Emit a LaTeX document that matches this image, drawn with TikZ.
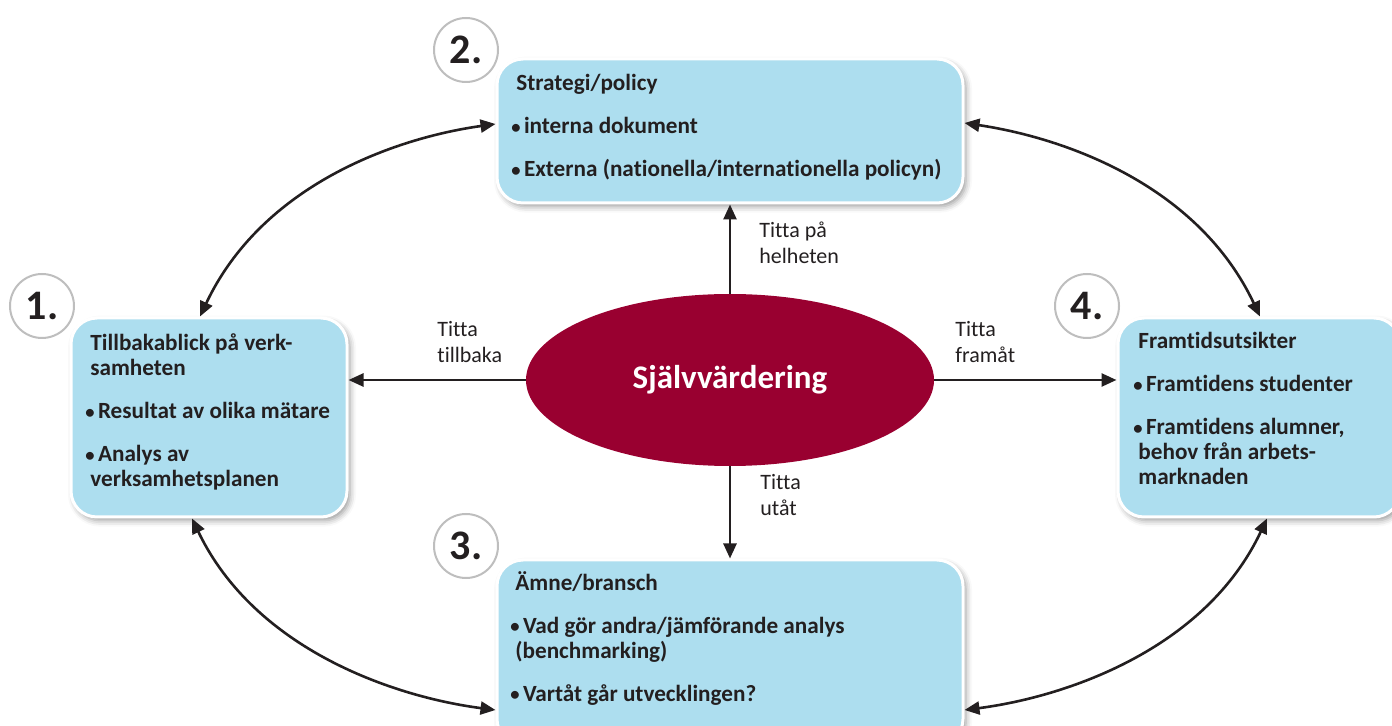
\documentclass[tikz,border=0pt]{standalone}
\usepackage{fontspec}
\setmainfont{Carlito}[Ligatures={NoCommon}]
\usetikzlibrary{arrows.meta,shapes.geometric,shadows.blur}
\definecolor{boxblue}{RGB}{173,222,239}
\definecolor{selfred}{RGB}{153,0,48}
\definecolor{inkdark}{RGB}{35,31,32}
\definecolor{ringgray}{RGB}{190,190,190}
\newcommand{\itembul}{\makebox[6.3pt][l]{\raisebox{0.4pt}{\scalebox{0.8}{•}}}}

\begin{document}
\begin{tikzpicture}[x=0.5pt,y=0.5pt,yscale=-1,xscale=1,
    infobox/.style={rectangle,rounded corners=13pt,fill=boxblue,draw=white,line width=1.5pt,inner sep=0pt,
      blur shadow={shadow xshift=1.5pt,shadow yshift=-1.8pt,shadow blur radius=3pt,shadow opacity=40}},
    boxtext/.style={anchor=base west,align=left,inner sep=0pt,text=inkdark,font=\fontsize{11.6}{12.5}\selectfont\bfseries},
    looklabel/.style={anchor=base west,align=left,inner sep=0pt,text=inkdark,font=\fontsize{11}{13}\selectfont},
    stepnum/.style={circle,draw=ringgray,line width=1pt,fill=white,minimum size=32pt,inner sep=0pt,text=inkdark,font=\fontsize{21}{21}\selectfont\bfseries},
    lookarrow/.style={draw=inkdark,line width=1.3pt,-{Triangle[length=7.5pt,width=6.5pt]}},
    twoway/.style={draw=inkdark,line width=1.3pt,{Triangle[length=7.5pt,width=6.5pt]}-{Triangle[length=7.5pt,width=6.5pt]}}]
  \useasboundingbox (0,0) rectangle (1392,726);

  %Shape: Boxes
  \node[infobox,minimum width=233pt,minimum height=72pt] (strategy) at (730,131) {};
  \node[infobox,minimum width=138pt,minimum height=99.5pt] (review) at (209,417.5) {};
  \node[infobox,minimum width=233pt,minimum height=92.5pt] (field) at (730,652.5) {};
  \node[infobox,minimum width=141pt,minimum height=99.5pt] (outlook) at (1259,417.5) {};

  %Shape: Ellipse
  \node[ellipse,fill=selfred,minimum width=204pt,minimum height=86pt,inner sep=0pt,text=white,
    font=\fontsize{16.5}{16.5}\selectfont\bfseries] (selfeval) at (730,380) {Självvärdering};

  %Straight Lines
  \draw[lookarrow] (selfeval.north) -- (strategy.south);
  \draw[lookarrow] (selfeval.south) -- (field.north);
  \draw[lookarrow] (selfeval.west) -- (selfeval.west -| review.east);
  \draw[lookarrow] (selfeval.east) -- (selfeval.east -| outlook.west);

  %Curve Lines
  \draw[twoway] (200,0 |- review.north) .. controls (262,185) and (395,138) .. (strategy.west |- 0,124);
  \draw[twoway] (1260,0 |- outlook.north) .. controls (1198,185) and (1065,138) .. (strategy.east |- 0,123);
  \draw[twoway] (192,0 |- review.south) .. controls (255,650) and (395,697) .. (field.west |- 0,710);
  \draw[twoway] (1267,0 |- outlook.south) .. controls (1205,650) and (1065,697) .. (field.east |- 0,710);

  %Shape: Circles
  \node[stepnum] (num1) at (42,306) {1.};
  \node[stepnum] (num2) at (466,50) {2.};
  \node[stepnum] (num3) at (466,546) {3.};
  \node[stepnum] (num4) at (1087,306) {4.};

  % Text Node
  \node[boxtext] (strategytext) at (511,177) {\hspace*{2.5pt}Strategi/policy\\[9pt]\itembul interna dokument\\[9pt]\itembul Externa (nationella/internationella policyn)};
  % Text Node
  \node[boxtext] (reviewtext) at (85,487) {\hspace*{2.5pt}Tillbakablick på verk-\\\hspace*{2.5pt}samheten\\[9pt]\itembul Resultat av olika mätare\\[9pt]\itembul Analys av\\\hspace*{2.5pt}verksamhetsplanen};
  % Text Node
  \node[boxtext] (fieldtext) at (510,701) {\hspace*{2.5pt}Ämne/bransch\\[9pt]\itembul Vad gör andra/jämförande analys\\\hspace*{2.5pt}(benchmarking)\\[9pt]\itembul Vartåt går utvecklingen?};
  % Text Node
  \node[boxtext] (outlooktext) at (1133,485) {\hspace*{2.5pt}Framtidsutsikter\\[9pt]\itembul Framtidens studenter\\[9pt]\itembul Framtidens alumner,\\\hspace*{2.5pt}behov från arbets-\\\hspace*{2.5pt}marknaden};
  % Text Node
  \node[looklabel] (lookwhole) at (759,264) {Titta på\\helheten};
  % Text Node
  \node[looklabel] (lookback) at (437,363) {Titta\\tillbaka};
  % Text Node
  \node[looklabel] (lookahead) at (955,363) {Titta\\framåt};
  % Text Node
  \node[looklabel] (lookout) at (760,516) {Titta\\utåt};
\end{tikzpicture}
\end{document}
